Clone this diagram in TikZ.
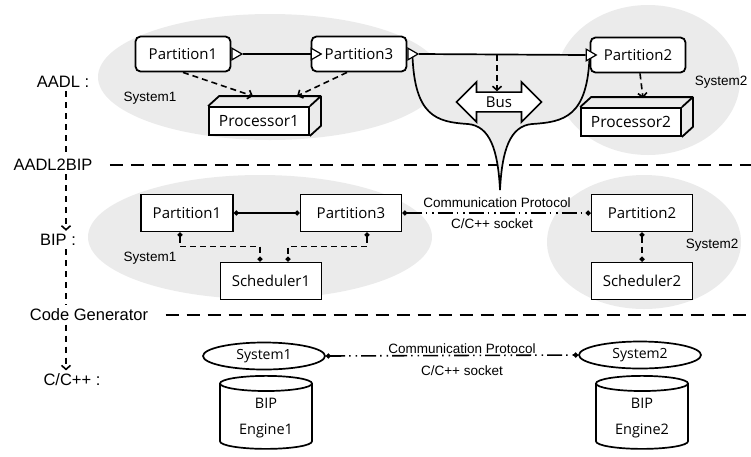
\documentclass[tikz,border=0pt]{standalone}
\usepackage{fontspec}
\setmainfont{Liberation Sans}
\newfontfamily\boxfont{Open Sans}
\usetikzlibrary{shapes.geometric,shapes.arrows,arrows.meta}

\begin{document}
\begin{tikzpicture}[x=1pt,y=-1pt,
  aadlbox/.style={draw,fill=white,rounded corners=5pt,line width=1.8pt,minimum width=95,minimum height=35,font=\boxfont\fontsize{15}{18}\selectfont},
  bipbox/.style={draw,fill=white,line width=1.7pt,minimum width=101,minimum height=37,font=\boxfont\fontsize{15}{18}\selectfont},
  procbox/.style={draw,fill=white,line width=1.8pt,minimum width=100,minimum height=28,font=\boxfont\fontsize{15.5}{18}\selectfont},
  port/.style={isosceles triangle,isosceles triangle apex angle=60,draw,fill=white,line width=1.2pt,inner sep=0pt,minimum size=10pt},
  busarrow/.style={double arrow,draw,fill=white,line width=1.7pt,double arrow head extend=8.5pt,minimum height=85,minimum width=40,inner sep=2pt,font=\boxfont\fontsize{15}{18}\selectfont},
  sysell/.style={ellipse,draw,fill=white,line width=1.7pt,minimum width=122,minimum height=27,inner sep=0pt,font=\boxfont\fontsize{14}{16}\selectfont},
  engine/.style={cylinder,shape border rotate=90,draw,fill=white,line width=1.7pt,aspect=0.25,minimum width=92,minimum height=73,align=center,font=\boxfont\fontsize{14.5}{26}\selectfont},
  lvl/.style={font=\fontsize{16.5}{20}\selectfont},
  syslbl/.style={font=\fontsize{13.5}{16}\selectfont},
  vdash/.style={line width=1.6pt,dash pattern=on 6pt off 5pt},
  hdash/.style={line width=1.7pt,dash pattern=on 13pt off 8pt},
  dasharrow/.style={line width=1.6pt,dash pattern=on 6pt off 4pt,-{Straight Barb[length=4pt,width=9pt]}},
  dotconn/.style={line width=1.6pt,{Circle[length=5pt]}-{Circle[length=5pt]}},
  commline/.style={line width=1.6pt,dash pattern=on 15pt off 4pt on 1.5pt off 5pt on 1.5pt off 4pt,{Circle[length=5pt]}-{Circle[length=5pt]}}]
\definecolor{bggray}{HTML}{EBEBEB}
\useasboundingbox (0,0) rectangle (751,456);
% grey system areas
\fill[bggray] (270,77) ellipse [x radius=172pt, y radius=63pt];
\fill[bggray] (648,80) ellipse [x radius=92pt, y radius=75pt];
\fill[bggray] (260,237) ellipse [x radius=172pt, y radius=62pt];
\fill[bggray] (644,242) ellipse [x radius=97pt, y radius=67pt];

% levels on the left
\node[lvl] (lAADL) at (63,82) {AADL :};
\node[lvl] (lA2B) at (53,165) {AADL2BIP};
\node[lvl] (lBIP) at (58,240) {BIP :};
\node[lvl] (lCG) at (89,315) {Code Generator};
\node[lvl] (lCC) at (72,380) {C/C++ :};
\coordinate (ax) at (66,0);
\coordinate (rim) at (751,0);
\draw[vdash] (lAADL.south -| ax) -- (lA2B.north -| ax);
\draw[vdash,-{Straight Barb[length=4pt,width=9pt]}] (lA2B.south -| ax) -- (lBIP.north -| ax);
\draw[vdash] (lBIP.south -| ax) -- (lCG.north -| ax);
\draw[vdash,-{Straight Barb[length=4pt,width=9pt]}] (lCG.south -| ax) -- (lCC.north -| ax);
\foreach \lv in {lA2B,lCG}
  {\draw[hdash] ([xshift=14pt]\lv.east) -- (\lv.east -| rim);}

% AADL model
\node[aadlbox] (ap1) at (183,54) {Partition1};
\node[aadlbox] (ap3) at (359,54) {Partition3};
\node[aadlbox] (ap2) at (638,55) {Partition2};
\node[procbox] (proc1) at (259,121) {Processor1};
\node[procbox] (proc2) at (631,122) {Processor2};
\foreach \pr in {proc1,proc2}
  {\draw[line width=1.8pt,line join=round] (\pr.north west) -- ++(11,-10) -- ([shift={(11,-10)}]\pr.north east)
     -- ([shift={(11,-10)}]\pr.south east) -- (\pr.south east) (\pr.north east) -- ++(11,-10);}
\coordinate (fl) at ([xshift=5pt]ap3.east);
\coordinate (fr) at (ap2.west);
\coordinate (bl) at (468,124);
\coordinate (br) at (532,124);
\coordinate (neck) at (500,190);
\fill[bggray] (fl) -- (fr) .. controls +(-2,62) and +(32,-2) .. (br) .. controls +(-22,2) and +(2,-40) .. (neck)
  .. controls +(-2,-40) and +(22,2) .. (bl) .. controls +(-32,-2) and +(2,62) .. (fl);
\draw[line width=1.7pt] (fl) .. controls +(2,62) and +(-32,-2) .. (bl) .. controls +(22,2) and +(-2,-40) .. (neck);
\draw[line width=1.7pt] (fr) .. controls +(-2,62) and +(32,-2) .. (br) .. controls +(-22,2) and +(2,-40) .. (neck);
\node[busarrow] (bus) at (499,102) {Bus};
\node[port,anchor=west] (p1o) at (ap1.east) {};
\node[port,anchor=west] (p3i) at (ap3.west) {};
\node[port,anchor=west] (p3o) at (ap3.east) {};
\node[port] (p2i) at (ap2.west) {};
\draw[line width=1.7pt] (p1o.east) -- (p3i.west);
\draw[line width=1.7pt] (p3o.east) -- (p2i.west);
\draw[dasharrow] ([xshift=-2pt]bus.north |- p2i.west) -- ([xshift=-2pt]bus.north);
\draw[dasharrow] (ap1.south) -- ([xshift=-6pt,yshift=10pt]proc1.north);
\draw[dasharrow] ([xshift=-12pt]ap3.south) -- ([xshift=38pt,yshift=10pt]proc1.north);
\draw[dasharrow] ([xshift=2pt]ap2.south) -- ([xshift=12pt,yshift=9pt]proc2.north);
\node[syslbl] (s1a) at (150,98) {System1};
\node[syslbl] (s2a) at (721,82) {System2};

% BIP model
\node[bipbox,minimum width=92] (bp1) at (187,213) {Partition1};
\node[bipbox] (bp3) at (351,213) {Partition3};
\node[bipbox] (bp2) at (642,213) {Partition2};
\node[bipbox] (sch1) at (271,281) {Scheduler1};
\node[bipbox] (sch2) at (642,281) {Scheduler2};
\draw[dotconn] (bp1.east) -- (bp3.west);
\draw[dotconn,dash pattern=on 6pt off 4pt] ([xshift=-7pt]bp1.south) -- ++(0,14) -| ([xshift=-11pt]sch1.north);
\draw[dotconn,dash pattern=on 6pt off 4pt] ([xshift=16pt]bp3.south) -- ++(0,14) -| ([xshift=17pt]sch1.north);
\draw[dotconn,dash pattern=on 6pt off 4pt] (bp2.south) -- (sch2.north);
\draw[commline] (bp3.east) -- (bp2.west);
\node[syslbl] (cp1) at (497,203) {Communication Protocol};
\node[syslbl] (cs1) at (492,224) {C/C++ socket};
\node[syslbl] (s1b) at (150,258) {System1};
\node[syslbl] (s2b) at (712,245) {System2};

% C/C++ code
\node[sysell] (es1) at (264,356) {System1};
\node[sysell] (es2) at (640,355) {System2};
\node[engine] (eng1) at (266,418) {BIP\\Engine1};
\node[engine] (eng2) at (642,418) {BIP\\Engine2};
\draw[commline] (es1.east) -- (es2.west);
\node[syslbl] (cp2) at (462,349) {Communication Protocol};
\node[syslbl] (cs2) at (462,371) {C/C++ socket};
\end{tikzpicture}
\end{document}
